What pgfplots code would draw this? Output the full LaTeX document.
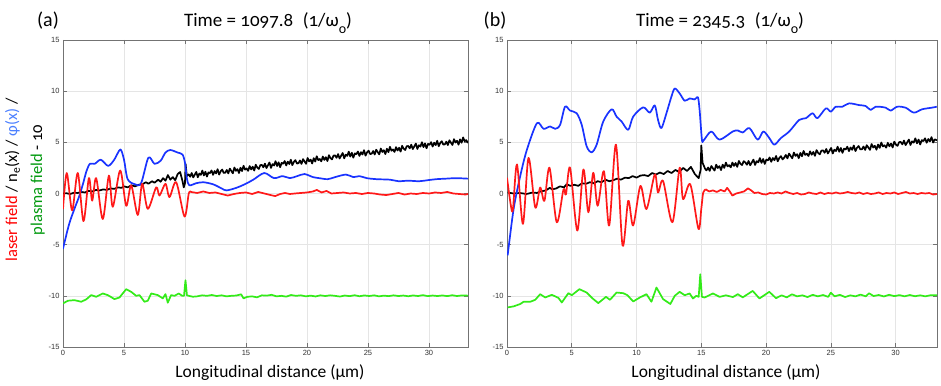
\documentclass[border=0pt]{standalone}
\usepackage{fontspec}
\setmainfont{Carlito}[Numbers=OldStyle]
\newfontfamily\tickfont{Liberation Sans}
\usepackage{pgfplots}
\pgfplotsset{compat=1.18}

\definecolor{lred}{rgb}{1,0.1,0.1}
\definecolor{lblue}{rgb}{0.1,0.2,1}
\definecolor{lgreen}{rgb}{0.2,0.92,0.1}
\definecolor{phiblue}{rgb}{0.3,0.5,1}
\definecolor{pgreen}{rgb}{0,0.6,0.05}

\pgfplotsset{
  panel/.style={
    scale only axis, anchor=south west,
    xmin=0, xmax=33.2, ymin=-15, ymax=15,
    xtick={0,5,...,30}, ytick={-15,-10,...,15},
    grid=major, grid style={black!10, line width=0.6pt},
    axis line style={black!55, line width=0.8pt},
    tick style={black!55, line width=0.6pt},
    major tick length=4pt, tick align=inside,
    ticklabel style={font=\tickfont\fontsize{7.5}{8}\selectfont, text=black!80},
    /pgf/number format/assume math mode=true,
  },
  curve/.style={line width=1.7pt, line join=round},
  dens/.style={black, line width=1.7pt, line join=round},
}

\begin{document}
\begin{tikzpicture}[x=1pt,y=1pt]
\path[use as bounding box] (0pt,0pt) rectangle (941pt,385pt);

% ---------- (a) ----------
\begin{axis}[panel, at={(63pt,38pt)}, width=405pt, height=307pt]
% n_e
\addplot[dens] coordinates {
 (0,0.0) (0.3,0.02) (0.6,-0.05) (0.9,0.08) (1.2,0.05) (1.5,0.15) (1.8,0.1) (2.1,0.25)
 (2.4,0.2) (2.7,0.35) (3.0,0.3) (3.3,0.4) (3.6,0.35) (3.9,0.5) (4.2,0.45) (4.5,0.6)
 (4.8,0.55) (5.0,0.7) (5.3,0.6) (5.6,0.8) (5.9,0.7) (6.2,0.85) (6.5,0.9) (6.8,1.1)
 (7.0,0.95) (7.3,1.2) (7.5,1.05) (7.8,1.35) (8.0,1.15) (8.2,1.5) (8.4,1.25) (8.6,1.8)
 (8.8,1.35) (9.0,1.6) (9.2,1.3) (9.4,1.9) (9.6,2.1) (9.8,1.2) (9.9,0.6) (10.0,1.0)
 (10.05,2.9) (10.15,1.7)
 (10.3,1.87) (10.425,1.64) (10.55,2.00) (10.675,1.57) (10.8,1.84) (10.925,2.11) (11.05,1.58) (11.175,1.95)
 (11.3,1.82) (11.425,2.24) (11.55,1.76) (11.675,2.13) (11.8,1.65) (11.925,2.07) (12.05,1.99) (12.175,2.25)
 (12.3,1.82) (12.425,2.19) (12.55,1.96) (12.675,2.38) (12.8,1.85) (12.925,2.17) (13.05,2.34) (13.175,2.01)
 (13.3,2.03) (13.425,2.30) (13.55,1.96) (13.675,2.43) (13.8,2.20) (13.925,1.97) (14.05,2.54) (14.175,2.21)
 (14.3,2.38) (14.425,2.00) (14.55,2.52) (14.675,2.19) (14.8,2.71) (14.925,2.33) (15.05,2.45) (15.175,2.21)
 (15.3,2.68) (15.425,2.35) (15.55,2.62) (15.675,2.24) (15.8,2.81) (15.925,2.53) (16.05,2.40) (16.175,2.77)
 (16.3,2.79) (16.425,2.56) (16.55,2.92) (16.675,2.49) (16.8,2.76) (16.925,3.03) (17.05,2.50) (17.175,2.87)
 (17.3,2.74) (17.425,3.16) (17.55,2.68) (17.675,3.05) (17.8,2.57) (17.925,2.99) (18.05,2.91) (18.175,3.17)
 (18.3,2.74) (18.425,3.11) (18.55,2.88) (18.675,3.30) (18.8,2.77) (18.925,3.09) (19.05,3.26) (19.175,2.93)
 (19.3,2.96) (19.425,3.23) (19.55,2.89) (19.675,3.36) (19.8,3.13) (19.925,2.90) (20.05,3.47) (20.175,3.14)
 (20.3,3.31) (20.425,2.93) (20.55,3.45) (20.675,3.12) (20.8,3.64) (20.925,3.26) (21.05,3.37) (21.175,3.14)
 (21.3,3.61) (21.425,3.28) (21.55,3.55) (21.675,3.17) (21.8,3.74) (21.925,3.46) (22.05,3.33) (22.175,3.70)
 (22.3,3.72) (22.425,3.49) (22.55,3.85) (22.675,3.42) (22.8,3.69) (22.925,3.96) (23.05,3.43) (23.175,3.80)
 (23.3,3.67) (23.425,4.09) (23.55,3.61) (23.675,3.98) (23.8,3.50) (23.925,3.92) (24.05,3.84) (24.175,4.10)
 (24.3,3.67) (24.425,4.04) (24.55,3.81) (24.675,4.23) (24.8,3.70) (24.925,4.02) (25.05,4.19) (25.175,3.86)
 (25.3,3.88) (25.425,4.15) (25.55,3.81) (25.675,4.28) (25.8,4.05) (25.925,3.82) (26.05,4.39) (26.175,4.06)
 (26.3,4.23) (26.425,3.85) (26.55,4.37) (26.675,4.04) (26.8,4.56) (26.925,4.18) (27.05,4.30) (27.175,4.06)
 (27.3,4.53) (27.425,4.20) (27.55,4.47) (27.675,4.09) (27.8,4.66) (27.925,4.38) (28.05,4.25) (28.175,4.62)
 (28.3,4.64) (28.425,4.41) (28.55,4.77) (28.675,4.34) (28.8,4.61) (28.925,4.88) (29.05,4.35) (29.175,4.72)
 (29.3,4.59) (29.425,5.01) (29.55,4.53) (29.675,4.90) (29.8,4.42) (29.925,4.84) (30.05,4.76) (30.175,5.02)
 (30.3,4.59) (30.425,4.96) (30.55,4.73) (30.675,5.15) (30.8,4.62) (30.925,4.94) (31.05,5.11) (31.175,4.78)
 (31.3,4.80) (31.425,5.07) (31.55,4.73) (31.675,5.20) (31.8,4.97) (31.925,4.74) (32.05,5.31) (32.175,4.98)
 (32.3,5.15) (32.425,4.77) (32.55,5.29) (32.675,4.96) (32.8,5.48) (32.925,5.10) (33.05,5.22) (33.175,4.98)
 (33.2,5.1)};
% phi
\addplot[lblue, curve, smooth] coordinates {
 (0,-5.4) (0.5,-3.0) (1.0,-1.3) (1.35,-0.2) (1.7,1.2) (1.9,2.1) (2.2,2.9) (2.6,2.9)
 (3.1,3.3) (3.7,2.7) (4.2,3.3) (4.7,4.3) (5.0,3.3) (5.3,1.4) (5.9,0.9) (6.4,1.0)
 (7.0,3.5) (7.5,2.9) (8.0,3.2) (8.4,4.0) (8.8,4.25) (9.4,4.0) (9.8,3.8) (10.0,3.0)
 (10.15,1.5) (10.35,0.8) (10.9,1.0) (11.5,1.1) (12.3,0.9) (13.0,0.5) (13.4,0.3)
 (14.2,0.55) (14.9,0.9) (15.6,1.35) (16.5,2.0) (17.3,1.5) (18.0,1.7) (18.6,1.5)
 (19.2,1.7) (19.8,1.9) (20.5,1.6) (21.0,1.5) (21.7,1.4) (22.3,1.6) (23.2,1.85)
 (23.8,1.6) (24.3,1.7) (24.9,1.5) (25.7,1.4) (26.8,1.35) (27.5,1.2) (28.3,1.25)
 (29.2,1.2) (29.9,1.3) (30.6,1.4) (31.4,1.45) (32.2,1.5) (33.2,1.45)};
% laser field
\addplot[lred, curve, smooth] coordinates {
 (0,-1.5) (0.31,2.0) (0.75,-1.65) (1.21,2.0) (1.68,-2.7) (2.12,1.5) (2.39,-0.7)
 (2.72,1.5) (3.26,-2.5) (3.76,1.75) (4.08,-1.3) (4.69,2.25) (5.18,-1.2) (5.59,0.8)
 (6.13,-2.1) (6.49,0.95) (6.95,-1.5) (7.64,0.6) (7.91,-0.2) (8.40,0.95) (8.73,-0.35)
 (9.28,1.1) (9.96,-2.25) (10.31,0.0) (10.5,0.15)};
\addplot[lred, curve] coordinates {
 (10.5,0.15) (11.0,0.05) (11.5,0.2) (12.0,0.05) (12.5,0.1) (13.0,-0.05) (13.5,-0.2)
 (14.0,-0.05) (14.5,0.05) (15.0,0.1) (15.5,-0.05) (16.0,0.15) (16.5,0.0) (17.0,-0.15)
 (17.4,-0.25) (17.8,-0.05) (18.2,0.05) (18.6,-0.05) (19.0,0.0) (19.5,0.05) (20.0,0.1)
 (20.5,0.2) (20.8,0.35) (21.2,0.1) (21.6,0.25) (22.0,0.0) (22.5,0.05) (23.0,0.1)
 (23.5,0.0) (24.0,0.05) (24.5,-0.05) (25.0,0.05) (25.5,0.0) (26.0,-0.1) (26.5,-0.15)
 (27.0,-0.05) (27.5,0.05) (28.0,-0.1) (28.5,0.0) (29.0,-0.05) (29.5,0.05) (30.0,0.0)
 (30.5,0.1) (31.0,0.05) (31.5,0.15) (32.0,0.0) (32.5,-0.05) (33.0,-0.1) (33.2,-0.05)};
% plasma field - 10
\addplot[lgreen, curve] coordinates {
 (0,-10.74) (0.4,-10.48) (0.94,-10.42) (1.49,-10.58) (1.9,-10.35) (2.31,-9.93)
 (2.72,-10.09) (3.26,-9.77) (3.67,-9.93) (4.22,-10.32) (4.63,-10.16) (5.18,-9.35)
 (5.59,-9.61) (6.0,-10.0) (6.27,-9.93) (6.68,-10.58) (6.95,-10.48) (7.23,-9.77)
 (7.77,-9.93) (8.18,-10.25) (8.40,-9.83) (8.59,-10.67) (8.86,-9.93) (9.14,-10.0)
 (9.49,-9.77) (9.77,-10.0) (9.92,-10.0) (10.04,-8.47) (10.16,-9.95) (10.64,-10.09)
 (11.0,-10.05) (11.4,-9.95) (11.8,-10.0) (12.2,-9.92) (12.6,-10.02) (13.0,-9.95)
 (13.4,-10.05) (13.8,-10.0) (14.2,-9.97) (14.6,-9.85) (14.8,-10.25) (15.1,-10.1)
 (15.5,-10.05) (15.9,-10.15) (16.3,-9.95) (16.7,-9.98) (17.1,-9.9) (17.5,-10.05)
 (17.9,-10.0) (18.3,-10.08) (18.7,-9.92) (19.1,-10.0) (19.5,-9.95) (19.9,-10.05)
 (20.3,-9.98) (20.7,-10.06) (21.1,-9.95) (21.5,-10.02) (21.9,-9.95) (22.3,-10.0)
 (22.7,-10.07) (23.1,-9.97) (23.5,-10.03) (23.9,-9.94) (24.3,-10.04) (24.7,-9.96)
 (25.1,-10.02) (25.5,-9.95) (25.9,-10.05) (26.3,-9.98) (26.7,-10.03) (27.1,-9.95)
 (27.5,-10.02) (27.9,-9.97) (28.3,-10.04) (28.7,-9.96) (29.1,-10.02) (29.5,-9.93)
 (29.9,-10.03) (30.3,-9.97) (30.7,-10.02) (31.1,-9.96) (31.5,-10.03) (31.9,-9.94)
 (32.3,-10.02) (32.7,-9.96) (33.2,-9.98)};
\end{axis}

% ---------- (b) ----------
\begin{axis}[panel, at={(507pt,38pt)}, width=430pt, height=307pt]
\addplot[dens] coordinates {
 (0.05,0.1) (0.5,0.0) (1.0,0.05) (1.5,-0.05) (2.0,0.1) (2.3,0.05) (2.6,0.2) (3.0,0.3)
 (3.3,0.55) (3.5,0.4) (3.8,0.5) (4.1,0.7) (4.4,0.6) (4.6,0.9) (4.9,0.75) (5.2,0.85)
 (5.5,0.75) (5.8,1.0) (6.1,0.95) (6.4,1.1) (6.7,1.0) (7.0,1.2) (7.3,1.1) (7.6,1.35)
 (7.9,1.2) (8.2,1.3) (8.5,1.45) (8.8,1.35) (9.1,1.55) (9.4,1.5) (9.7,1.7) (10.0,1.55)
 (10.3,1.75) (10.6,1.8) (10.9,1.7) (11.2,2.0) (11.5,1.85) (11.8,2.05) (12.1,1.9)
 (12.4,2.2) (12.7,2.0) (13.0,2.3) (13.3,2.1) (13.6,2.5) (13.9,2.2) (14.2,2.6) (14.5,1.9)
 (14.8,1.5) (14.95,2.3) (15.0,4.7) (15.1,3.0) (15.3,2.4)
 (15.4,2.26) (15.525,2.54) (15.65,2.21) (15.775,2.69) (15.9,2.46) (16.025,2.24) (16.15,2.82) (16.275,2.49)
 (16.4,2.67) (16.525,2.29) (16.65,2.82) (16.775,2.50) (16.9,3.02) (17.025,2.65) (17.15,2.77) (17.275,2.55)
 (17.4,3.02) (17.525,2.70) (17.65,2.98) (17.775,2.60) (17.9,3.18) (18.025,2.90) (18.15,2.78) (18.275,3.16)
 (18.4,3.03) (18.525,2.81) (18.65,3.18) (18.775,2.76) (18.9,3.03) (19.025,3.31) (19.15,2.79) (19.275,3.16)
 (19.4,3.04) (19.525,3.46) (19.65,2.99) (19.775,3.37) (19.9,2.89) (20.025,3.32) (20.15,3.24) (20.275,3.52)
 (20.4,3.10) (20.525,3.47) (20.65,3.25) (20.775,3.67) (20.9,3.15) (21.025,3.47) (21.15,3.65) (21.275,3.33)
 (21.4,3.50) (21.525,3.77) (21.65,3.43) (21.775,3.90) (21.9,3.67) (22.025,3.44) (22.15,4.00) (22.275,3.67)
 (22.4,3.84) (22.525,3.45) (22.65,3.97) (22.775,3.64) (22.9,4.16) (23.025,3.77) (23.15,3.89) (23.275,3.66)
 (23.4,4.12) (23.525,3.79) (23.65,4.06) (23.775,3.68) (23.9,4.24) (24.025,3.96) (24.15,3.83) (24.275,4.19)
 (24.4,4.21) (24.525,3.98) (24.65,4.35) (24.775,3.91) (24.9,4.18) (25.025,4.45) (25.15,3.91) (25.275,4.28)
 (25.4,4.15) (25.525,4.57) (25.65,4.08) (25.775,4.45) (25.9,3.97) (26.025,4.38) (26.15,4.30) (26.275,4.57)
 (26.4,4.14) (26.525,4.50) (26.65,4.27) (26.775,4.69) (26.9,4.15) (27.025,4.47) (27.15,4.64) (27.275,4.31)
 (27.4,4.32) (27.525,4.59) (27.65,4.26) (27.775,4.72) (27.9,4.49) (28.025,4.26) (28.15,4.83) (28.275,4.49)
 (28.4,4.66) (28.525,4.28) (28.65,4.79) (28.775,4.46) (28.9,4.98) (29.025,4.60) (29.15,4.71) (29.275,4.48)
 (29.4,4.95) (29.525,4.61) (29.65,4.88) (29.775,4.50) (29.9,5.07) (30.025,4.78) (30.15,4.65) (30.275,5.02)
 (30.4,5.03) (30.525,4.80) (30.65,5.17) (30.775,4.73) (30.9,5.00) (31.025,5.27) (31.15,4.74) (31.275,5.10)
 (31.4,4.97) (31.525,5.39) (31.65,4.90) (31.775,5.27) (31.9,4.79) (32.025,5.21) (32.15,5.12) (32.275,5.39)
 (32.4,4.96) (32.525,5.32) (32.65,5.09) (32.775,5.51) (32.9,4.98) (33.025,5.29) (33.2,5.2)};
\addplot[lblue, curve, smooth] coordinates {
 (0.05,-6.04) (0.51,-1.52) (1.02,1.70) (1.54,4.29) (2.31,6.87) (2.82,6.32) (3.33,6.55)
 (3.72,6.32) (4.10,6.71) (4.48,8.48) (4.87,8.10) (5.38,7.84) (5.77,6.71) (6.15,4.61)
 (6.54,4.03) (6.92,4.77) (7.43,7.03) (8.08,8.23) (8.46,7.51) (8.85,7.03) (9.36,6.22)
 (9.74,7.51) (10.51,8.42) (11.02,7.90) (11.41,8.61) (11.66,7.19) (11.92,6.39)
 (12.31,7.84) (12.69,9.45) (12.95,10.26) (13.33,9.78) (13.72,9.06) (14.10,9.29)
 (14.49,9.19) (14.74,9.39) (14.87,8.16) (15.05,5.26) (15.18,5.19) (15.77,6.06)
 (16.41,5.26) (17.43,6.06) (17.82,6.16) (18.20,5.96) (18.72,6.39) (19.35,5.26)
 (19.79,6.06) (20.25,5.42) (20.64,4.77) (21.15,5.42) (21.79,6.06) (22.56,7.19)
 (23.08,7.36) (23.59,7.84) (23.97,7.36) (24.62,8.32) (25.0,8.0) (25.38,8.48)
 (25.89,8.48) (26.41,8.81) (27.18,8.64) (27.69,8.55) (28.08,8.16) (28.46,8.48)
 (29.23,8.39) (29.62,8.10) (30.12,8.48) (30.77,8.39) (31.41,7.90) (32.05,8.23)
 (32.82,8.39) (33.18,8.48)};
\addplot[lred, curve, smooth] coordinates {
 (0,1.55) (0.3,-1.2) (0.46,-1.52) (0.77,2.84) (1.23,-2.97) (1.66,3.48) (2.18,-1.36)
 (2.56,0.58) (2.89,-0.71) (3.28,2.52) (3.84,-2.81) (4.36,0.4) (4.55,-0.1) (4.87,2.52)
 (5.43,-3.62) (5.90,2.35) (6.28,-1.84) (6.66,2.03) (7.0,-1.2) (7.48,2.19) (7.89,-3.13)
 (8.41,4.77) (8.92,-5.07) (9.36,-0.71) (9.74,-3.13) (10.3,0.74) (10.77,-1.52)
 (11.41,1.87) (11.66,0.1) (12.05,1.22) (12.77,-2.81) (13.33,2.52) (13.59,-0.55)
 (14.15,0.9) (14.78,-3.45) (15.0,-1.5) (15.15,0.1) (15.35,0.4)};
\addplot[lred, curve] coordinates {
 (15.35,0.4) (15.6,0.2) (15.9,0.3) (16.2,0.15) (16.5,0.35) (16.8,0.2) (17.0,0.55)
 (17.2,0.2) (17.4,-0.2) (17.7,0.0) (18.0,0.1) (18.3,0.2) (18.6,0.5) (18.8,0.35)
 (19.1,0.05) (19.4,0.1) (19.7,-0.05) (20.0,-0.1) (20.3,0.05) (20.6,0.0) (20.9,0.1)
 (21.2,0.0) (21.5,0.2) (21.8,0.05) (22.1,-0.05) (22.4,0.05) (22.7,-0.1) (23.0,-0.05)
 (23.3,0.1) (23.6,0.0) (23.9,-0.05) (24.2,0.1) (24.5,-0.05) (24.8,0.05) (25.1,0.0)
 (25.4,0.1) (25.7,0.0) (26.0,0.05) (26.3,0.15) (26.6,0.05) (26.9,0.0) (27.2,0.1)
 (27.5,-0.05) (27.8,0.05) (28.1,-0.05) (28.4,0.0) (28.7,0.1) (29.0,-0.05) (29.3,0.05)
 (29.6,0.0) (29.9,0.1) (30.2,-0.05) (30.5,0.05) (30.8,0.15) (31.1,0.0) (31.4,0.05)
 (31.7,-0.05) (32.0,0.05) (32.3,0.0) (32.6,0.05) (32.9,-0.1) (33.2,-0.05)};
\addplot[lgreen, curve] coordinates {
 (0.05,-11.13) (0.51,-11.03) (1.02,-10.8) (1.28,-10.58) (1.79,-10.58) (2.18,-10.39)
 (2.56,-9.84) (2.95,-10.16) (3.46,-9.9) (3.97,-10.2) (4.23,-10.65) (4.74,-9.74)
 (5.0,-9.94) (5.59,-9.35) (6.15,-9.68) (6.61,-10.26) (7.05,-10.71) (7.64,-10.1)
 (7.95,-10.39) (8.46,-9.68) (8.97,-9.74) (9.30,-9.94) (9.74,-10.55) (10.26,-10.16)
 (10.77,-9.84) (11.15,-10.58) (11.54,-9.19) (12.05,-10.32) (12.61,-10.8) (12.95,-10.0)
 (13.33,-9.61) (13.72,-9.94) (14.1,-9.77) (14.36,-10.26) (14.61,-10.0) (14.8,-10.1)
 (14.92,-7.9) (15.05,-10.1) (15.26,-10.16) (15.9,-9.77) (16.41,-10.1) (16.9,-9.95)
 (17.44,-10.12) (17.82,-9.84) (18.2,-10.15) (18.97,-9.52) (19.49,-10.26) (20.25,-9.61)
 (20.77,-10.23) (21.2,-9.95) (21.6,-10.15) (22.0,-9.85) (22.4,-10.05) (22.8,-9.95)
 (23.2,-10.12) (23.6,-9.9) (24.0,-10.05) (24.4,-9.92) (24.8,-10.1) (25.0,-9.7)
 (25.3,-10.05) (25.7,-9.9) (26.1,-10.12) (26.5,-9.95) (26.9,-10.05) (27.3,-9.88)
 (27.7,-10.05) (27.95,-9.75) (28.3,-10.02) (28.7,-9.92) (29.1,-10.06) (29.5,-9.9)
 (29.9,-10.03) (30.3,-9.93) (30.7,-10.05) (31.1,-9.92) (31.5,-10.04) (31.9,-9.95)
 (32.3,-10.05) (32.7,-9.94) (33.2,-9.95)};
\end{axis}

% titles and labels
\node[anchor=base] at (48pt,358pt) {\fontsize{20}{22}\selectfont (a)};
\node[anchor=base] at (268pt,358pt) {\fontsize{19}{21}\selectfont Time = 1097.8\enspace(1/ω\raisebox{-0.35em}{\fontsize{14}{14}\selectfont o})};
\node[anchor=base] at (495pt,358pt) {\fontsize{20}{22}\selectfont (b)};
\node[anchor=base] at (720pt,358pt) {\fontsize{19}{21}\selectfont Time = 2345.3\enspace(1/ω\raisebox{-0.35em}{\fontsize{14}{14}\selectfont o})};
\node[anchor=base] at (270pt,8pt) {\fontsize{17.5}{19}\selectfont Longitudinal distance (µm)};
\node[anchor=base] at (726pt,8pt) {\fontsize{17.5}{19}\selectfont Longitudinal distance (µm)};
\node[rotate=90, align=center, font=\fontsize{16.5}{25}\selectfont] at (25pt,205pt)
 {\textcolor{red}{laser field} / n\textsubscript{e}(x) / \textcolor{phiblue}{φ(x)} /\\
  \textcolor{pgreen}{plasma field} - 10};
\end{tikzpicture}
\end{document}
